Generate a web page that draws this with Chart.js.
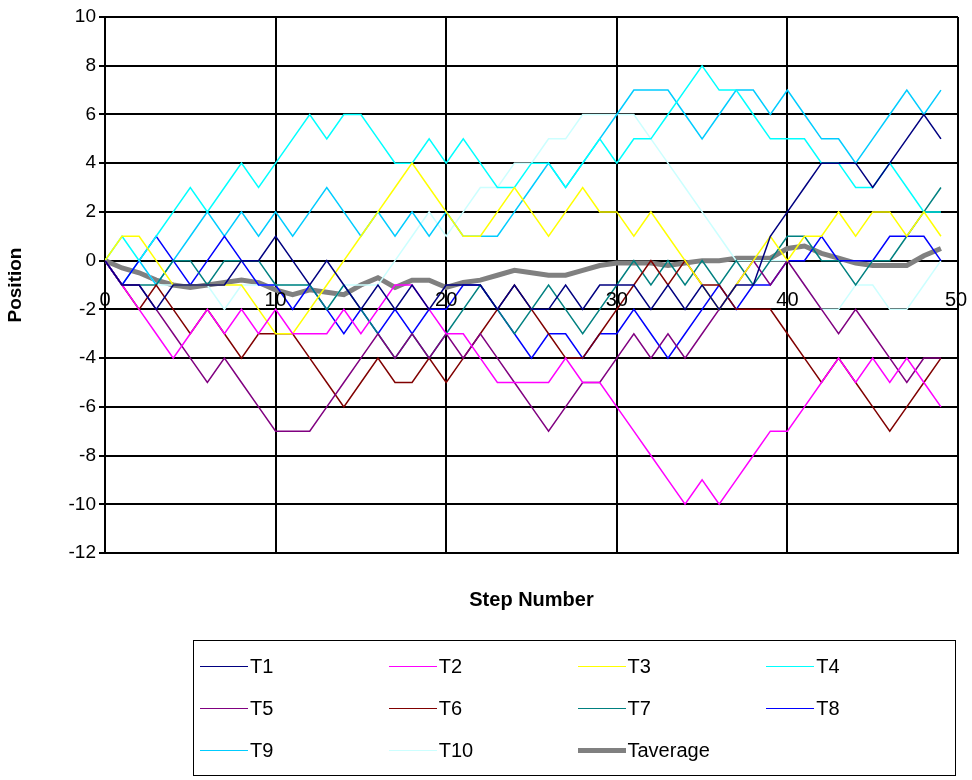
<!DOCTYPE html>
<html lang="en">
<head>
<meta charset="UTF-8">
<script src="https://cdn.jsdelivr.net/npm/chart.js"></script>
<title>random walks</title>
<style>
  body { margin: 0; background: #fff; font-family: "Liberation Sans", Arial, sans-serif; }
  #wrap { position: relative; width: 972px; height: 780px; }
  #legend { position: absolute; left: 193px; top: 640px; width: 763px; height: 136px; border: 1px solid #000;
            display: grid; grid-template-columns: repeat(4, 1fr); align-items: center; padding: 4px 0 4px 6px; box-sizing: border-box; }
  .item { display: flex; align-items: center; font-size: 20px; }
  .sw { width: 48px; margin-right: 2px; }
</style>
</head>
<body>
<div id="wrap">
  <canvas id="c" width="972" height="780"></canvas>
  <div id="legend"></div>
</div>
<script>
// 50 steps per walk
const T1 = [0,-1,-1,-2,-1,-1,-1,-1,0,0,1,0,-1,0,-1,-2,-1,-2,-1,-2,-1,-1,-1,-2,-1,-2,-2,-1,-2,-1,-1,-1,-2,-1,-2,-1,-2,-1,-1,1,2,3,4,4,4,3,4,5,6,5];
const T2 = [0,-1,-2,-3,-4,-3,-2,-3,-2,-3,-2,-3,-3,-3,-2,-3,-2,-1,-1,-2,-3,-3,-4,-5,-5,-5,-5,-4,-5,-5,-6,-7,-8,-9,-10,-9,-10,-9,-8,-7,-7,-6,-5,-4,-5,-4,-5,-4,-5,-6];
const T3 = [0,1,1,0,-1,-1,-1,-1,-1,-2,-3,-3,-2,-1,0,1,2,3,4,3,2,1,1,2,3,2,1,2,3,2,2,1,2,1,0,-1,-2,-1,0,1,0,1,1,2,1,2,2,1,2,1];
const T4 = [0,1,0,1,2,3,2,3,4,3,4,5,6,5,6,6,5,4,4,5,4,5,4,3,3,4,4,3,4,5,4,5,5,6,7,8,7,7,6,5,5,5,4,4,3,3,4,3,2,2];
const T5 = [0,-1,-1,-2,-3,-4,-5,-4,-5,-6,-7,-7,-7,-6,-5,-4,-3,-4,-3,-4,-3,-4,-3,-4,-5,-6,-7,-6,-5,-5,-4,-3,-4,-3,-4,-3,-2,-1,0,-1,0,-1,-2,-3,-2,-3,-4,-5,-4,-4];
const T6 = [0,-1,-2,-1,-2,-3,-2,-3,-4,-3,-3,-3,-4,-5,-6,-5,-4,-5,-5,-4,-5,-4,-3,-2,-1,-2,-3,-4,-4,-3,-2,-1,0,-1,0,-1,-1,-2,-2,-2,-3,-4,-5,-4,-5,-6,-7,-6,-5,-4];
const T7 = [0,-1,-1,-1,0,0,-1,0,0,0,-1,-1,-1,-2,-1,-2,-3,-4,-3,-4,-3,-2,-1,-2,-3,-2,-1,-2,-3,-2,-1,0,-1,0,-1,0,-1,0,-1,0,1,1,0,0,-1,0,0,1,2,3];
const T8 = [0,-1,0,1,0,-1,0,1,0,-1,-1,-2,-1,-2,-3,-2,-3,-2,-3,-2,-2,-1,-1,-2,-3,-4,-3,-3,-4,-3,-3,-2,-3,-4,-3,-2,-1,-2,-1,-1,0,0,1,0,0,0,1,1,1,0];
const T9 = [0,-1,0,-1,0,1,2,1,2,1,2,1,2,3,2,1,2,1,2,1,2,1,1,1,2,3,4,3,4,5,6,7,7,7,6,5,6,7,7,6,7,6,5,5,4,5,6,7,6,7];
const T10 = [0,1,0,-1,-1,-1,-1,-2,-1,-1,-1,-1,-1,-2,-1,-1,-1,0,1,2,1,2,3,3,4,4,5,5,6,6,6,6,5,4,3,2,1,0,0,0,0,-1,-2,-2,-1,-1,-2,-2,-1,0];
const Taverage = [0,-0.3,-0.5,-0.8,-1,-1.1,-1,-0.9,-0.8,-0.9,-1.2,-1.4,-1.2,-1.3,-1.4,-1.0,-0.7,-1.1,-0.8,-0.8,-1.1,-0.9,-0.8,-0.6,-0.4,-0.5,-0.6,-0.6,-0.4,-0.2,-0.1,-0.1,-0.1,-0.2,-0.1,0,0,0.1,0.1,0.1,0.5,0.6,0.3,0.1,-0.1,-0.2,-0.2,-0.2,0.2,0.5];
const xTicks = [0, 10, 20, 30, 40, 50];

const series = [
  ['T1', T1, '#000080', 1.5], ['T2', T2, '#ff00ff', 1.5], ['T3', T3, '#ffff00', 1.5], ['T4', T4, '#00ffff', 1.5],
  ['T5', T5, '#800080', 1.5], ['T6', T6, '#800000', 1.5], ['T7', T7, '#008080', 1.5], ['T8', T8, '#0000ff', 1.5],
  ['T9', T9, '#00ccff', 1.5], ['T10', T10, '#ccffff', 1.5], ['Taverage', Taverage, '#808080', 5]
];

const datasets = series.map(([name, vals, color, w]) => ({
  label: name,
  data: vals.map((v, i) => ({ x: i, y: v })),
  borderColor: color, borderWidth: w, pointRadius: 0, fill: false, tension: 0
}));

// x labels sit near the y=0 line, like in the spreadsheet
const xLabels = {
  id: 'xLabels',
  afterDraw(chart) {
    const { ctx, scales: { x, y } } = chart;
    ctx.save();
    ctx.fillStyle = '#000';
    ctx.font = '20px "Liberation Sans", Arial';
    ctx.textAlign = 'center';
    ctx.textBaseline = 'middle';
    const yy = y.getPixelForValue(0) + 40;
    xTicks.forEach(t => ctx.fillText(String(t), x.getPixelForValue(t) + (t === 50 ? -2 : 0), yy));
    ctx.font = 'bold 20px "Liberation Sans", Arial';
    ctx.fillText('Step Number', (x.left + x.right) / 2, 600);
    ctx.restore();
  }
};

new Chart(document.getElementById('c'), {
  type: 'line',
  data: { datasets },
  options: {
    responsive: false,
    animation: false,
    layout: { padding: { top: 17, right: 14 } },
    plugins: { legend: { display: false }, tooltip: { enabled: false } },
    scales: {
      x: {
        type: 'linear', min: 0, max: 50,
        ticks: { display: false, stepSize: 10 },
        grid: { color: '#000', lineWidth: 2, drawTicks: false },
        border: { color: '#000', width: 2 },
        afterFit: s => { s.height = 227; }
      },
      y: {
        min: -12, max: 10,
        ticks: { stepSize: 2, color: '#000', font: { size: 19, family: '"Liberation Sans", Arial' } },
        grid: { color: '#000', lineWidth: 2, tickLength: 6 },
        border: { color: '#000', width: 2 },
        title: { display: true, text: 'Position', color: '#000', font: { size: 19, weight: 'bold', family: '"Liberation Sans", Arial' } },
        afterFit: s => { s.width = 105; }
      }
    }
  },
  plugins: [xLabels]
});

const legend = document.getElementById('legend');
series.forEach(([name, , color, w]) => {
  const d = document.createElement('div');
  d.className = 'item';
  d.innerHTML = `<span class="sw" style="border-top:${w}px solid ${color}"></span>${name}`;
  legend.appendChild(d);
});
</script>
</body>
</html>
